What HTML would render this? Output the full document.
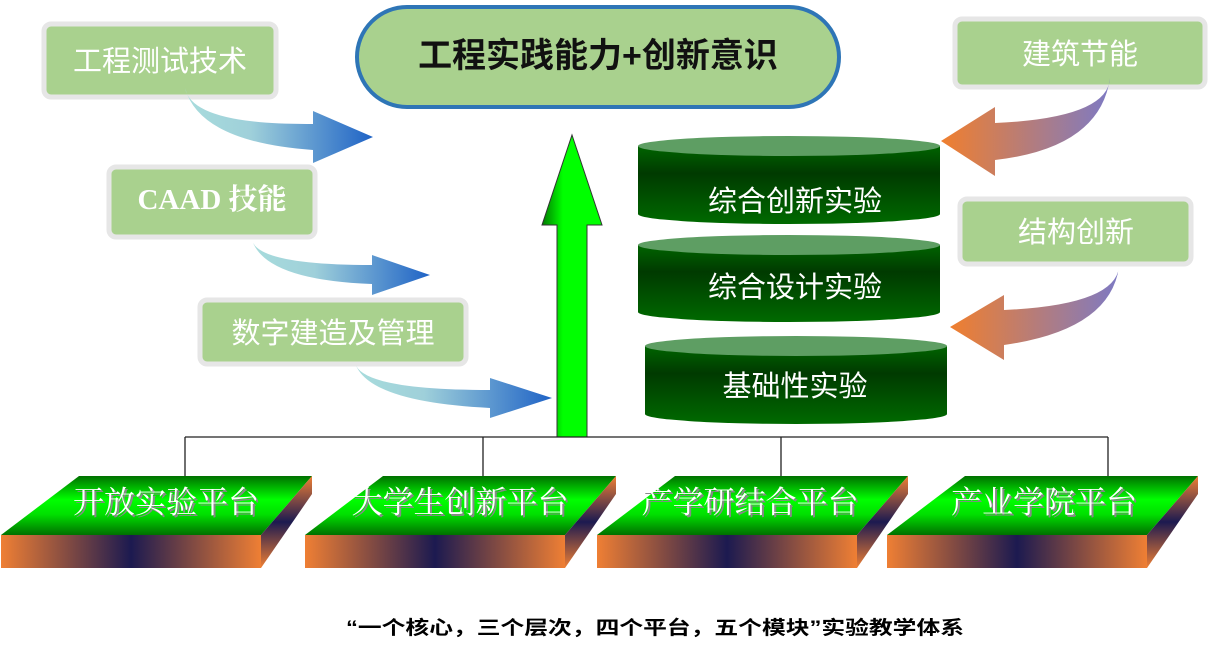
<!DOCTYPE html>
<html><head><meta charset="utf-8"><style>
html,body{margin:0;padding:0;background:#fff;}
svg{display:block;}
text{font-family:"Liberation Sans","Noto Sans CJK SC",sans-serif;}
</style></head><body>
<svg width="1213" height="648" viewBox="0 0 1213 648" xmlns="http://www.w3.org/2000/svg">
<defs>
<linearGradient id="blu" x1="0" x2="1" y1="0" y2="0"><stop offset="0" stop-color="#a8dcdc"/><stop offset="0.35" stop-color="#9fd0da"/><stop offset="1" stop-color="#1f63c6"/></linearGradient>
<linearGradient id="org" x1="0" x2="1" y1="0" y2="0"><stop offset="0" stop-color="#f07f2e"/><stop offset="1" stop-color="#7d7ac4"/></linearGradient>
<linearGradient id="grn" x1="0" x2="1"><stop offset="0" stop-color="#007a00"/><stop offset="0.35" stop-color="#00ff00"/><stop offset="1" stop-color="#00ff00"/></linearGradient>
<linearGradient id="cyl" x1="0" x2="0" y1="0" y2="1"><stop offset="0" stop-color="#006400"/><stop offset="0.35" stop-color="#003a00"/><stop offset="1" stop-color="#006a00"/></linearGradient>
<linearGradient id="top" x1="0" x2="0" y1="0" y2="1"><stop offset="0" stop-color="#007000"/><stop offset="0.4" stop-color="#00ff00"/><stop offset="0.65" stop-color="#00e000"/><stop offset="1" stop-color="#007000"/></linearGradient>
<linearGradient id="frt" x1="0" x2="1"><stop offset="0" stop-color="#ef7f34"/><stop offset="0.5" stop-color="#1c1a50"/><stop offset="1" stop-color="#ef7f34"/></linearGradient>
<linearGradient id="sid" x1="0" x2="0" y1="0" y2="1"><stop offset="0" stop-color="#ef7f34"/><stop offset="0.5" stop-color="#1c1a50"/><stop offset="1" stop-color="#ef7f34"/></linearGradient>
</defs>

<rect x="357" y="7" width="482" height="100" rx="50" fill="#a9d18e" stroke="#2e75b6" stroke-width="4"/>
<text x="598" y="67" font-size="34" font-weight="bold" text-anchor="middle" fill="#111">工程实践能力+创新意识</text>

<g fill="#a9d18e" stroke="#e6e6e6" stroke-width="5">
<rect x="44" y="24" width="232" height="73" rx="7"/>
<rect x="109" y="167" width="206" height="70" rx="7"/>
<rect x="200" y="300" width="266" height="64" rx="7"/>
<rect x="955" y="19" width="250" height="68" rx="7"/>
<rect x="960" y="199" width="231" height="65" rx="7"/>
</g>
<g fill="#fff" font-size="29" text-anchor="middle">
<text x="160" y="71">工程测试技术</text>
<text x="212" y="209" style="font-family:'Liberation Serif','Noto Serif CJK SC',serif;font-weight:bold">CAAD 技能</text>
<text x="333" y="343">数字建造及管理</text>
<text x="1080" y="64">建筑节能</text>
<text x="1076" y="242">结构创新</text>
</g>

<path d="M185,88 Q192,125 313,124 L313,111 L373,137 L313,163 L313,150 Q200,142 185,88 Z" fill="url(#blu)"/>
<path d="M252,240 Q258,265 372,265 L372,255 L430,275 L372,295 L372,284 Q265,280 252,240 Z" fill="url(#blu)"/>
<path d="M355,363 Q362,390 490,390 L490,378 L552,398 L490,418 L490,408 Q368,402 355,363 Z" fill="url(#blu)"/>

<path d="M1110,78 Q1108,118 995,123 L995,107 L941,141 L995,176 L995,160 Q1100,148 1110,78 Z" fill="url(#org)"/>
<path d="M1119,267 Q1115,305 1004,310 L1004,295 L950,327 L1004,360 L1004,345 Q1110,330 1119,267 Z" fill="url(#org)"/>

<path d="M572,135 L602,225 L587,225 L587,437 L557,437 L557,225 L542,225 Z" fill="url(#grn)" stroke="#333" stroke-width="1"/>

<g>
<path d="M638,146 L638,214 A151,10 0 0 0 940,214 L940,146 Z" fill="url(#cyl)"/>
<ellipse cx="789" cy="146" rx="151" ry="10" fill="#5e9e63"/>
<path d="M638,245 L638,312 A151,10 0 0 0 940,312 L940,245 Z" fill="url(#cyl)"/>
<ellipse cx="789" cy="245" rx="151" ry="10" fill="#5e9e63"/>
<path d="M645,346 L645,414 A151,10 0 0 0 947,414 L947,346 Z" fill="url(#cyl)"/>
<ellipse cx="796" cy="346" rx="151" ry="10" fill="#5e9e63"/>
</g>
<g fill="#fff" font-size="29" text-anchor="middle">
<text x="795" y="211">综合创新实验</text>
<text x="795" y="297">综合设计实验</text>
<text x="795" y="396">基础性实验</text>
</g>

<g stroke="#222" stroke-width="1.3" fill="none">
<path d="M185,437 H1108"/>
<path d="M185,437 V476 M483,437 V476 M781,437 V476 M1108,437 V476"/>
</g>

<g>
<g>
<polygon points="79,476 312,476 261,535 1,535" fill="url(#top)"/>
<polygon points="312,476 312,494 261,568 261,535" fill="url(#sid)"/>
<rect x="1" y="535" width="260" height="33" fill="url(#frt)"/>
</g>
<g transform="translate(304,0)">
<polygon points="79,476 312,476 261,535 1,535" fill="url(#top)"/>
<polygon points="312,476 312,494 261,568 261,535" fill="url(#sid)"/>
<rect x="1" y="535" width="260" height="33" fill="url(#frt)"/>
</g>
<g transform="translate(596,0)">
<polygon points="79,476 312,476 261,535 1,535" fill="url(#top)"/>
<polygon points="312,476 312,494 261,568 261,535" fill="url(#sid)"/>
<rect x="1" y="535" width="260" height="33" fill="url(#frt)"/>
</g>
<g transform="translate(886,0)">
<polygon points="79,476 312,476 261,535 1,535" fill="url(#top)"/>
<polygon points="312,476 312,494 261,568 261,535" fill="url(#sid)"/>
<rect x="1" y="535" width="260" height="33" fill="url(#frt)"/>
</g>
</g>
<g font-size="31" text-anchor="middle" style="font-family:'Liberation Serif','Noto Serif CJK SC',serif">
<g fill="#888" transform="translate(2,2)">
<text x="166" y="513" style="font-family:'Liberation Serif','Noto Serif CJK SC',serif">开放实验平台</text>
<text x="460" y="513" style="font-family:'Liberation Serif','Noto Serif CJK SC',serif">大学生创新平台</text>
<text x="750" y="513" style="font-family:'Liberation Serif','Noto Serif CJK SC',serif">产学研结合平台</text>
<text x="1044" y="513" style="font-family:'Liberation Serif','Noto Serif CJK SC',serif">产业学院平台</text>
</g>
<g fill="#fff">
<text x="166" y="513" style="font-family:'Liberation Serif','Noto Serif CJK SC',serif">开放实验平台</text>
<text x="460" y="513" style="font-family:'Liberation Serif','Noto Serif CJK SC',serif">大学生创新平台</text>
<text x="750" y="513" style="font-family:'Liberation Serif','Noto Serif CJK SC',serif">产学研结合平台</text>
<text x="1044" y="513" style="font-family:'Liberation Serif','Noto Serif CJK SC',serif">产业学院平台</text>
</g>
</g>

<text x="346" y="634" font-size="19" font-weight="bold" fill="#000" textLength="618" lengthAdjust="spacingAndGlyphs">“一个核心，三个层次，四个平台，五个模块”实验教学体系</text>
</svg>
</body></html>
